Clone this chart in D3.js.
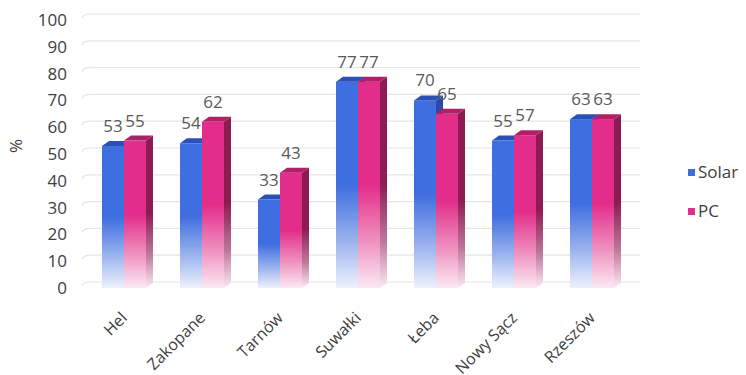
<!DOCTYPE html>
<html>
<head>
<meta charset="utf-8">
<script src="https://cdn.jsdelivr.net/npm/d3@7"></script>
<style>
  html, body { margin: 0; padding: 0; background: #fff; }
  svg { display: block; font-family: "Open Sans", "Noto Sans", sans-serif; }
</style>
</head>
<body>
<svg id="chart" width="746" height="375"></svg>
<script>
// Share of the year (%) per location, two installation types
const categories = ["Hel", "Zakopane", "Tarnów", "Suwałki", "Łeba", "Nowy Sącz", "Rzeszów"];
const seriesNames = ["Solar", "PC"];
const solarValues = [53, 54, 33, 77, 70, 55, 63];
const pcValues = [55, 62, 43, 77, 65, 57, 63];
const yTickValues = [0, 10, 20, 30, 40, 50, 60, 70, 80, 90, 100];
const yAxisTitle = "%";

const W = 746, H = 375;
const svg = d3.select("#chart");
const defs = svg.append("defs");

// 3D extrusion offset of each box
const depthX = 7, depthY = -5;

const palette = {
  Solar: { front: "#3f6ee0", top: "#2b50b6", side: "#2a4aa6", light: "#eef2fc", mid: "#9db4ee" },
  PC:    { front: "#e32d8a", top: "#b01f68", side: "#8c1a53", light: "#fce9f3", mid: "#ef94c1" }
};

function vGrad(id, top, mid, bottom) {
  const g = defs.append("linearGradient").attr("id", id)
    .attr("x1", 0).attr("y1", 0).attr("x2", 0).attr("y2", 1);
  g.append("stop").attr("offset", "0%").attr("stop-color", top);
  g.append("stop").attr("offset", "50%").attr("stop-color", top);
  g.append("stop").attr("offset", "78%").attr("stop-color", mid);
  g.append("stop").attr("offset", "100%").attr("stop-color", bottom);
}
seriesNames.forEach(s => {
  const p = palette[s];
  vGrad("front-" + s, p.front, p.mid, p.light);
  vGrad("side-" + s, p.side, d3.interpolateRgb(p.side, p.light)(0.45), p.light);
});

const x = d3.scaleBand().domain(categories).range([85, 631]).padding(0);
const bw = x.bandwidth();
const xs = d3.scaleBand().domain(seriesNames).range([bw * 0.218, bw * 0.782]).padding(0);
const y = d3.scaleLinear().domain([0, 100]).range([288, 20]);

// back-wall gridlines
const grid = svg.append("g");
yTickValues.forEach(v => {
  const gy = y(v) - 6;
  const x0 = 82, x1 = 640;
  grid.append("path")
    .attr("d", `M${x0},${gy + 4} Q${x0 + 1},${gy} ${x0 + 9},${gy} L${x1},${gy}`)
    .attr("fill", "none")
    .attr("stroke", "#e6e6e6")
    .attr("stroke-width", 1.2);
});

// y axis labels
const yAxis = d3.axisLeft(y).tickValues(yTickValues).tickSize(0).tickPadding(3);
const gy = svg.append("g").attr("transform", "translate(70,0)").call(yAxis);
gy.select(".domain").remove();
gy.selectAll("text")
  .attr("font-size", 17)
  .attr("font-family", "'Open Sans', sans-serif")
  .attr("fill", "#404040");

svg.append("text")
  .attr("transform", "translate(22,146) rotate(-90)")
  .attr("text-anchor", "middle")
  .attr("font-size", 17)
  .attr("fill", "#404040")
  .text(yAxisTitle);

// bars as extruded boxes
const rows = categories.map((c, i) => ({ c, Solar: solarValues[i], PC: pcValues[i] }));
const bars = svg.append("g");
rows.forEach(r => {
  seriesNames.forEach(s => {
    const xl = x(r.c) + xs(s), w = xs.bandwidth();
    const yt = y(r[s]), yb = y(0);
    const g = bars.append("g");
    g.append("path")
      .attr("d", `M${xl + w},${yt} L${xl + w + depthX},${yt + depthY} L${xl + w + depthX},${yb + depthY} L${xl + w},${yb} Z`)
      .attr("fill", `url(#side-${s})`);
    g.append("rect")
      .attr("x", xl).attr("y", yt).attr("width", w).attr("height", yb - yt)
      .attr("fill", `url(#front-${s})`);
    g.append("path")
      .attr("d", `M${xl},${yt} L${xl + depthX},${yt + depthY} L${xl + w + depthX},${yt + depthY} L${xl + w},${yt} Z`)
      .attr("fill", palette[s].top);
  });
});

// value labels
const labels = svg.append("g");
rows.forEach(r => {
  seriesNames.forEach(s => {
    labels.append("text")
      .attr("x", x(r.c) + xs(s) + xs.bandwidth() / 2)
      .attr("y", y(r[s]) - 14)
      .attr("text-anchor", "middle")
      .attr("font-size", 17)
      .attr("fill", "#595959")
      .text(r[s]);
  });
});

// category labels, rotated
const xAxis = svg.append("g");
categories.forEach(c => {
  xAxis.append("text")
    .attr("transform", `translate(${x(c) + bw / 2 + 4},319) rotate(-45)`)
    .attr("text-anchor", "end")
    .attr("font-size", 16)
    .attr("fill", "#404040")
    .text(c);
});

// legend
const legend = svg.append("g");
seriesNames.forEach((s, i) => {
  const ly = 178 + i * 39;
  legend.append("rect")
    .attr("x", 688).attr("y", ly - 9).attr("width", 7).attr("height", 7)
    .attr("fill", palette[s].front);
  legend.append("text")
    .attr("x", 698).attr("y", ly)
    .attr("font-size", 17)
    .attr("fill", "#404040")
    .text(s);
});
</script>
</body>
</html>
